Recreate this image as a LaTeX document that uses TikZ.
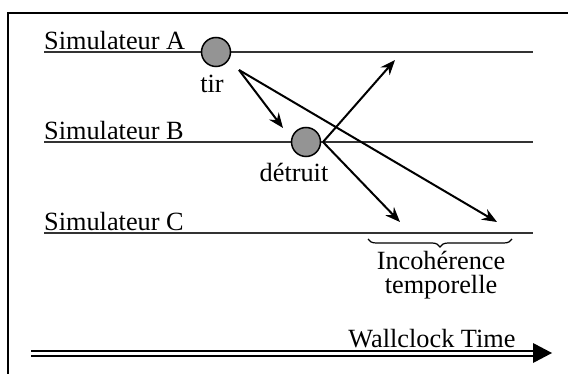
\documentclass[tikz,border=0pt]{standalone}
\usepackage{fontspec}
\setmainfont{Liberation Serif}
\usetikzlibrary{arrows.meta,decorations.pathreplacing}
\tikzset{
  simline/.style={draw=black!80, line width=2pt},
  lbl/.style={inner sep=0pt, font=\fontsize{26.3}{28}\selectfont},
  ev/.style={circle, draw=black, line width=1.5pt, fill=black!42, minimum size=29pt, inner sep=0pt},
  msg/.style={draw=black, line width=2pt, -{Stealth[length=15pt,width=12pt,inset=5pt]}},
  frameline/.style={draw=black, line width=1.3pt},
}
\begin{document}
\begin{tikzpicture}[x=1pt,y=-1pt]
\useasboundingbox (0,0) rectangle (568,374);
% frame
\coordinate (f0) at (8,374);
\coordinate (f1) at (8,13);
\coordinate (f2) at (568,13);
\draw[frameline] (f0) -- (f1) -- (f2);
% simulator lines
\coordinate (a0) at (44,52);  \coordinate (a1) at (533,52);
\coordinate (b0) at (44,142); \coordinate (b1) at (533,142);
\coordinate (c0) at (44,233); \coordinate (c1) at (533,233);
\draw[simline] (a0) -- (a1);
\draw[simline] (b0) -- (b1);
\draw[simline] (c0) -- (c1);
\node[lbl, anchor=base west] (la) at (44,50) {Simulateur A};
\node[lbl, anchor=base west] (lb) at (44,140) {Simulateur B};
\node[lbl, anchor=base west] (lc) at (44,231) {Simulateur C};
% events
\node[ev] (ca) at (216,52) {};
\node[ev] (cb) at (306,142) {};
\node[lbl, anchor=base] (tir) at (212,93) {tir};
\node[lbl, anchor=base] (det) at (294,182) {détruit};
% messages
\coordinate (s1) at (239,70);
\coordinate (t1) at (283,128);
\coordinate (t2) at (497,222);
\coordinate (s2) at (323,142);
\coordinate (t3) at (395,60);
\coordinate (t4) at (400,222);
\draw[msg] (s1) -- (t1);
\draw[msg] (s1) -- (t2);
\draw[msg] (s2) -- (t3);
\draw[msg] (s2) -- (t4);
% brace
\coordinate (br0) at (368,239);
\coordinate (br1) at (512,239);
\draw[line width=1.2pt, decorate, decoration={brace, mirror, amplitude=8pt}] (br0) -- (br1);
\node[lbl, anchor=base] (inc1) at (441,270) {Incohérence};
\node[lbl, anchor=base] (inc2) at (441,294) {temporelle};
% wallclock
\node[lbl, anchor=base] (wc) at (432,347) {Wallclock Time};
\coordinate (w0) at (31,350.5);
\coordinate (w1) at (533,350.5);
\coordinate (w2) at (31,355.5);
\coordinate (w3) at (533,355.5);
\coordinate (wt) at (552,353);
\coordinate (wu) at (533,343);
\coordinate (wd) at (533,363);
\draw[line width=2pt] (w0) -- (w1);
\draw[line width=2pt] (w2) -- (w3);
\fill[black] (wu) -- (wt) -- (wd) -- cycle;
\end{tikzpicture}
\end{document}
